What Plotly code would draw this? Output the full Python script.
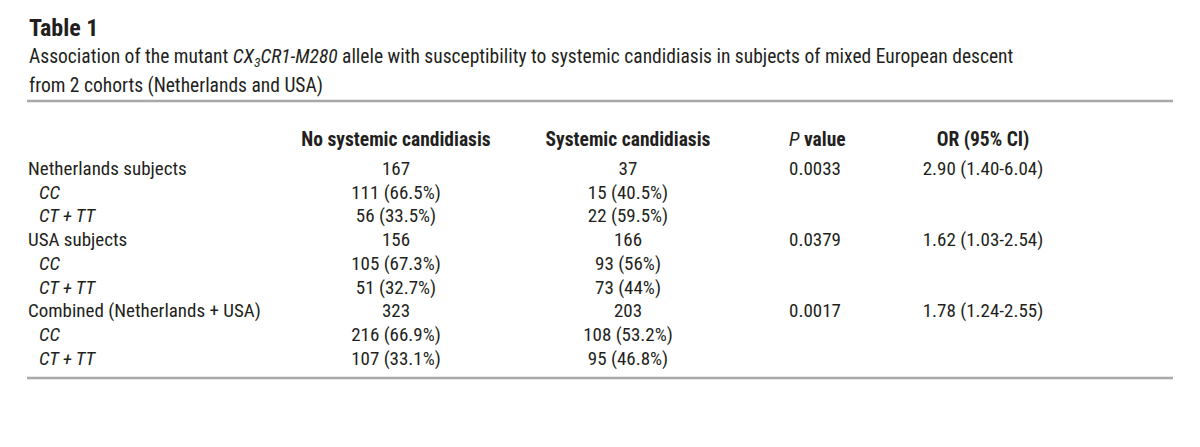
import plotly.graph_objects as go

# ---------------- data ----------------
table_title = "Table 1"
caption_lines = [
    "Association of the mutant <i>CX<sub>3</sub>CR1-M280</i> allele with susceptibility to systemic candidiasis in subjects of mixed European descent",
    "from 2 cohorts (Netherlands and USA)",
]
column_headers = ["No systemic candidiasis", "Systemic candidiasis", "<i>P</i> value", "OR (95% CI)"]

row_labels = ["Netherlands subjects", "CC", "CT + TT",
              "USA subjects", "CC", "CT + TT",
              "Combined (Netherlands + USA)", "CC", "CT + TT"]
row_is_genotype = [False, True, True, False, True, True, False, True, True]

no_candidiasis = ["167", "111 (66.5%)", "56 (33.5%)",
                  "156", "105 (67.3%)", "51 (32.7%)",
                  "323", "216 (66.9%)", "107 (33.1%)"]
candidiasis = ["37", "15 (40.5%)", "22 (59.5%)",
               "166", "93 (56%)", "73 (44%)",
               "203", "108 (53.2%)", "95 (46.8%)"]
p_values = ["0.0033", "", "", "0.0379", "", "", "0.0017", "", ""]
odds_ratios = ["2.90 (1.40-6.04)", "", "", "1.62 (1.03-2.54)", "", "",
               "1.78 (1.24-2.55)", "", ""]

# ---------------- layout / style ----------------
W, H = 1200, 447
FONT = "Liberation Sans Narrow, Arial Narrow, Roboto Condensed, DejaVu Sans Condensed, sans-serif"
TXT = "#231f20"
RULE = "#a8a8a8"
BODY = 19

left_x = 28
indent = 11
col_center_1 = 396
col_center_2 = 628
col_left_3 = 789
col_center_4 = 983
header_y = 141
row_y0 = 170
row_step = 23.75
top_rule_y = 101
bottom_rule_y = 378
rule_x0, rule_x1 = 27, 1173

n = len(row_labels)
row_y = [row_y0 + i * row_step for i in range(n)]


def nonempty(xs, ys, ts):
    keep = [i for i, t in enumerate(ts) if t]
    return [xs[i] for i in keep], [ys[i] for i in keep], [ts[i] for i in keep]


fig = go.Figure()

# row labels
lx = [left_x + (indent if g else 0) for g in row_is_genotype]
lt = [f"<i>{lab}</i>" if g else lab for lab, g in zip(row_labels, row_is_genotype)]
fig.add_trace(go.Scatter(
    x=lx, y=row_y, text=lt,
    mode="text", textposition="middle right",
    textfont=dict(family=FONT, size=BODY, color=TXT),
    hoverinfo="skip", cliponaxis=False))

# centred numeric columns
for cx, vals in [(col_center_1, no_candidiasis), (col_center_2, candidiasis),
                 (col_center_4, odds_ratios)]:
    xs, ys, ts = nonempty([cx] * n, row_y, vals)
    fig.add_trace(go.Scatter(
        x=xs, y=ys, text=ts,
        mode="text", textposition="middle center",
        textfont=dict(family=FONT, size=BODY, color=TXT),
        hoverinfo="skip", cliponaxis=False))

# left-aligned P value column
xs, ys, ts = nonempty([col_left_3] * n, row_y, p_values)
fig.add_trace(go.Scatter(
    x=xs, y=ys, text=ts,
    mode="text", textposition="middle right",
    textfont=dict(family=FONT, size=BODY, color=TXT),
    hoverinfo="skip", cliponaxis=False))

# headers
hdr_x = [col_center_1, col_center_2, col_left_3, col_center_4]
hdr_pos = ["middle center", "middle center", "middle right", "middle center"]
hdr_text = []
for h in column_headers:
    if h.startswith("<i>P</i>"):
        hdr_text.append("<i>P</i> <b>value</b>")
    else:
        hdr_text.append(f"<b>{h}</b>")
for x, t, p in zip(hdr_x, hdr_text, hdr_pos):
    fig.add_trace(go.Scatter(
        x=[x], y=[header_y], text=[t], mode="text", textposition=p,
        textfont=dict(family=FONT, size=19.5, color=TXT),
        hoverinfo="skip", cliponaxis=False))

annotations = [
    dict(x=left_x - 1, y=28, text=f"<b>{table_title}</b>", xanchor="left", yanchor="middle",
         showarrow=False, font=dict(family=FONT, size=24, color=TXT)),
    dict(x=left_x - 1, y=57, text=caption_lines[0], xanchor="left", yanchor="middle",
         showarrow=False, font=dict(family=FONT, size=19.5, color=TXT)),
    dict(x=left_x - 1, y=85, text=caption_lines[1], xanchor="left", yanchor="middle",
         showarrow=False, font=dict(family=FONT, size=19.5, color=TXT)),
]
for a in annotations:
    a.update(xref="x", yref="y")

shapes = [
    dict(type="line", xref="x", yref="y", x0=rule_x0, x1=rule_x1, y0=top_rule_y, y1=top_rule_y,
         line=dict(color=RULE, width=2.5)),
    dict(type="line", xref="x", yref="y", x0=rule_x0, x1=rule_x1, y0=bottom_rule_y, y1=bottom_rule_y,
         line=dict(color=RULE, width=2.5)),
]

fig.update_layout(
    width=W, height=H, margin=dict(l=0, r=0, t=0, b=0),
    paper_bgcolor="white", plot_bgcolor="white",
    showlegend=False, hovermode=False,
    xaxis=dict(range=[0, W], visible=False, fixedrange=True),
    yaxis=dict(range=[H, 0], visible=False, fixedrange=True),
    annotations=annotations, shapes=shapes,
)

fig.write_html("out.html", config={"displayModeBar": False},
               post_script="document.body.style.margin='0';document.body.style.overflow='hidden';")
